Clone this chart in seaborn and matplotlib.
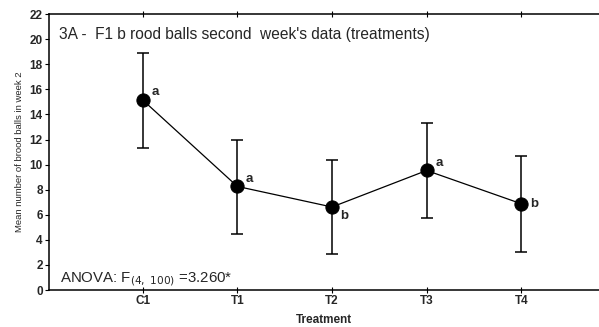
import matplotlib
matplotlib.use("Agg")
import matplotlib.pyplot as plt
import seaborn as sns
import numpy as np
import pandas as pd

treatments = ["C1", "T1", "T2", "T3", "T4"]
means = [15.15, 8.26, 6.62, 9.53, 6.88]
upper = [18.9, 12.0, 10.4, 13.3, 10.65]
lower = [11.3, 4.45, 2.85, 5.75, 3.05]
letters = ["a", "a", "b", "a", "b"]
yticks = [0, 2, 4, 6, 8, 10, 12, 14, 16, 18, 20, 22]

sns.set_theme(style="white")
plt.rcParams["font.family"] = ["Liberation Sans", "DejaVu Sans"]

fig = plt.figure(figsize=(5.99, 3.27), dpi=100)
ax = fig.add_axes([0.0818, 0.113, 0.918, 0.844])

pos = np.arange(len(treatments))
df = pd.DataFrame({"pos": pos, "mean": means})
sns.lineplot(data=df, x="pos", y="mean", ax=ax, color="black", lw=0.9,
             marker="o", markersize=9.5, markeredgecolor="black",
             markerfacecolor="black", zorder=3)
yerr = [np.array(means) - np.array(lower), np.array(upper) - np.array(means)]
ax.errorbar(pos, means, yerr=yerr, fmt="none", ecolor="black",
            elinewidth=1.1, capsize=4, capthick=1.1, zorder=2)

offsets = [(0.09, 0.6), (0.09, 0.6), (0.09, -0.7), (0.09, 0.6), (0.09, 0.0)]
for i, (lt, (dx, dy)) in enumerate(zip(letters, offsets)):
    ax.text(pos[i] + dx, means[i] + dy, lt, fontsize=9.5, fontweight="bold",
            ha="left", va="center")

ax.set_xlim(-0.99, 4.82)
ax.set_ylim(0, 22)
ax.set_xticks(pos)
ax.set_xticklabels(treatments, fontsize=8.5, fontweight="bold")
ax.set_yticks(yticks)
ax.set_yticklabels([str(t) for t in yticks], fontsize=8.5, fontweight="bold")
ax.tick_params(axis="both", direction="out", length=3, width=0.8, color="black", pad=1.5,
               left=True, bottom=True)
ax.tick_params(axis="x", top=True, direction="inout", length=4)

for s in ["left", "bottom", "top"]:
    ax.spines[s].set_visible(True)
    ax.spines[s].set_color("black")
    ax.spines[s].set_linewidth(1.1)
ax.spines["right"].set_visible(False)

ax.set_xlabel("Treatment", fontsize=8.5, fontweight="bold", labelpad=5)
ax.set_ylabel("Mean number of brood balls in week 2", fontsize=6.8, labelpad=4)

ax.text(-0.88, 20.35, "3A -  F1 b rood balls second  week's data (treatments)",
        fontsize=11.2, ha="left", va="center")
ax.text(-0.87, 0.9, r"ANOVA: F$_{(4,\ 100)}$ =3.260*", fontsize=10.8,
        ha="left", va="center")

fig.savefig("out.png", dpi=100)
